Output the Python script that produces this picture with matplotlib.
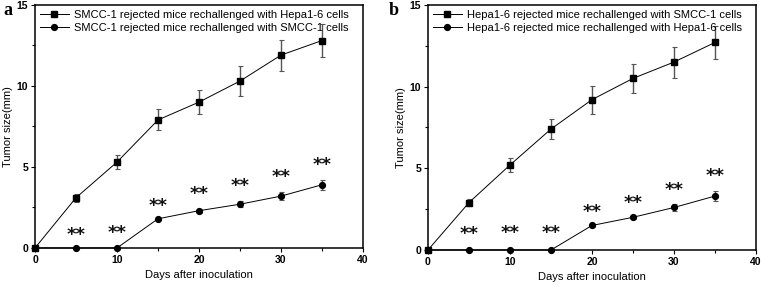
import matplotlib
matplotlib.use("Agg")
import matplotlib.pyplot as plt
from matplotlib.ticker import MultipleLocator

plt.rcParams['font.family'] = ['Liberation Sans', 'DejaVu Sans']

days = [0, 5, 10, 15, 20, 25, 30, 35]

# Panel a
a_sq = [0, 3.1, 5.3, 7.9, 9.0, 10.3, 11.9, 12.8]
a_sq_err = [0, 0.25, 0.45, 0.65, 0.75, 0.9, 0.95, 1.0]
a_ci = [0, 0, 0, 1.8, 2.3, 2.7, 3.2, 3.9]
a_ci_err = [0, 0, 0, 0.08, 0.12, 0.18, 0.25, 0.3]
a_star_days = [5, 10, 15, 20, 25, 30, 35]
a_star_y = [0.8, 0.95, 2.6, 3.3, 3.8, 4.4, 5.1]
a_labels = ["SMCC-1 rejected mice rechallenged with Hepa1-6 cells",
            "SMCC-1 rejected mice rechallenged with SMCC-1 cells"]

# Panel b
b_sq = [0, 2.9, 5.2, 7.4, 9.2, 10.5, 11.5, 12.7]
b_sq_err = [0, 0.2, 0.45, 0.6, 0.85, 0.9, 0.95, 1.0]
b_ci = [0, 0, 0, 0, 1.5, 2.0, 2.6, 3.3]
b_ci_err = [0, 0, 0, 0, 0.08, 0.1, 0.2, 0.3]
b_star_days = [5, 10, 15, 20, 25, 30, 35]
b_star_y = [0.95, 1.05, 1.05, 2.3, 2.9, 3.7, 4.5]
b_labels = ["Hepa1-6 rejected mice rechallenged with SMCC-1 cells",
            "Hepa1-6 rejected mice rechallenged with Hepa1-6 cells"]

xlabel = "Days after inoculation"
ylabel = "Tumor size(mm)"

fig = plt.figure(figsize=(7.61, 2.87), dpi=100)
ax_a = fig.add_axes([0.046, 0.136, 0.431, 0.847])
ax_b = fig.add_axes([0.5624, 0.129, 0.431, 0.854])

def draw(ax, sq, sqe, ci, cie, sd, sy, labels, letter, lx):
    for vals, errs, mk, lab in ((sq, sqe, 's', labels[0]), (ci, cie, 'o', labels[1])):
        ax.errorbar(days, vals, yerr=errs, fmt='none', ecolor='#555555',
                    elinewidth=1.0, capsize=1.8, capthick=0.8, zorder=2)
        ax.plot(days, vals, '-', marker=mk, color='black', ms=4.2, lw=0.7,
                label=lab, clip_on=False, zorder=3)
    for d, y in zip(sd, sy):
        ax.text(d, y, "**", ha='center', va='center', fontsize=13,
                family='DejaVu Sans', fontweight='bold', color='#111111')
    ax.set_xlim(0, 40)
    ax.set_ylim(0, 15)
    ax.xaxis.set_major_locator(MultipleLocator(10))
    ax.xaxis.set_minor_locator(MultipleLocator(5))
    ax.yaxis.set_major_locator(MultipleLocator(5))
    ax.yaxis.set_minor_locator(MultipleLocator(2.5))
    ax.tick_params(which='major', direction='out', length=3, width=0.8,
                   labelsize=7.5, pad=2)
    ax.tick_params(which='minor', direction='out', length=2, width=0.8)
    for lab in ax.get_xticklabels() + ax.get_yticklabels():
        lab.set_fontweight('bold')
    for s in ax.spines.values():
        s.set_linewidth(1.1)
    ax.set_xlabel(xlabel, fontsize=8, labelpad=4)
    ax.set_ylabel(ylabel, fontsize=8)
    ax.yaxis.set_label_coords(-0.068, 0.5)
    ax.legend(loc='upper left', bbox_to_anchor=(0, 1), frameon=False,
              fontsize=8, borderpad=0, borderaxespad=0.45,
              handlelength=2.6, handletextpad=0.5, labelspacing=0.3)
    fig.text(lx, 0.962, letter, fontsize=13, fontweight='bold',
             family='Liberation Serif', ha='left', va='center')

draw(ax_a, a_sq, a_sq_err, a_ci, a_ci_err, a_star_days, a_star_y, a_labels, 'a', 0.004)
draw(ax_b, b_sq, b_sq_err, b_ci, b_ci_err, b_star_days, b_star_y, b_labels, 'b', 0.511)

fig.savefig("out.png", dpi=100)
